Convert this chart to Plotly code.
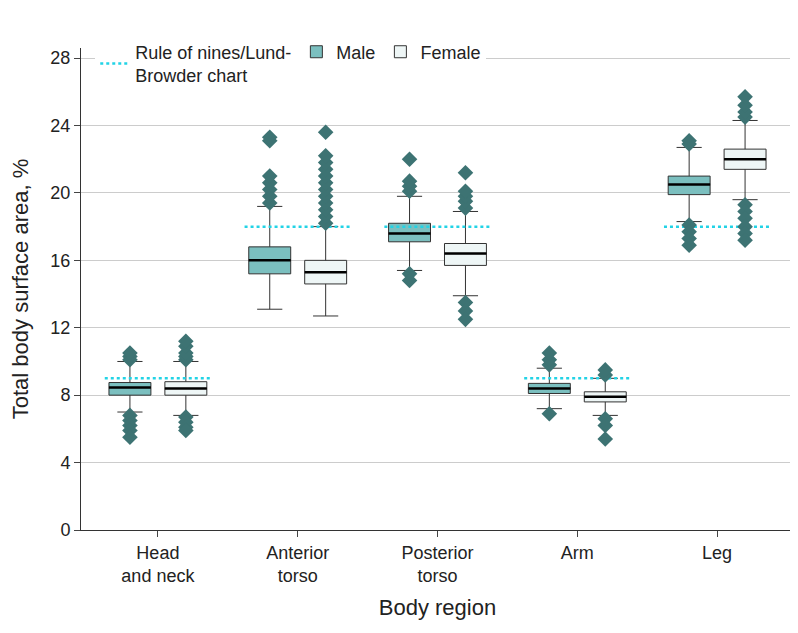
import plotly.graph_objects as go

regions = ["Head<br>and neck", "Anterior<br>torso", "Posterior<br>torso", "Arm", "Leg"]
rule_of_nines = [9, 18, 18, 9, 18]

male_q1 = [8.0, 15.2, 17.1, 8.1, 19.9]
male_med = [8.45, 16.0, 17.6, 8.4, 20.5]
male_q3 = [8.75, 16.8, 18.2, 8.7, 21.0]
male_lo = [7.0, 13.1, 15.4, 7.2, 18.3]
male_hi = [10.0, 19.2, 19.8, 9.6, 22.7]
male_out = [
    [6.8, 6.5, 6.2, 5.9, 5.5, 10.1, 10.3, 10.5],
    [19.4, 19.8, 20.2, 20.6, 21.0, 23.1, 23.3],
    [15.2, 14.8, 20.1, 20.4, 20.7, 22.0],
    [6.9, 9.8, 10.1, 10.5],
    [18.1, 17.7, 17.3, 16.9, 22.9, 23.1],
]

female_q1 = [8.0, 14.6, 15.7, 7.6, 21.4]
female_med = [8.4, 15.3, 16.4, 7.9, 22.0]
female_q3 = [8.8, 16.0, 17.0, 8.2, 22.6]
female_lo = [6.8, 12.7, 13.9, 6.8, 19.6]
female_hi = [10.0, 18.0, 18.9, 9.0, 24.3]
female_out = [
    [6.7, 6.4, 6.1, 5.9, 10.1, 10.3, 10.5, 10.9, 11.2],
    [18.2, 18.6, 19.0, 19.4, 19.8, 20.2, 20.6, 21.0, 21.4, 21.8, 22.2, 23.6],
    [13.5, 13.0, 12.5, 19.1, 19.5, 19.8, 20.1, 21.2],
    [6.6, 6.2, 5.4, 9.2, 9.5],
    [19.3, 18.9, 18.5, 18.0, 17.6, 17.2, 24.5, 24.8, 25.2, 25.7],
]

OFF = 0.2
HALF = 0.15
fig = go.Figure()

# rule of nines reference lines
for i, v in enumerate(rule_of_nines):
    fig.add_trace(go.Scatter(
        x=[i - OFF - HALF - 0.03, i + OFF + HALF + 0.03], y=[v, v], mode="lines",
        line=dict(color="#22d3e6", width=2.5, dash="dot"),
        name="Rule of nines/Lund-<br>Browder chart", showlegend=(i == 0),
        legendgroup="rule"))

for name, sign, fill, q1, med, q3, lo, hi, out in [
    ("Male", -1, "#7bbfbf", male_q1, male_med, male_q3, male_lo, male_hi, male_out),
    ("Female", 1, "#eef6f6", female_q1, female_med, female_q3, female_lo, female_hi, female_out),
]:
    xs = [i + sign * OFF for i in range(len(regions))]
    fig.add_trace(go.Box(
        x=xs, q1=q1, median=med, q3=q3, lowerfence=lo, upperfence=hi,
        name=name, fillcolor=fill, line=dict(color="#333333", width=1),
        width=2 * HALF, whiskerwidth=0.6, boxpoints=False))
    for i in range(len(regions)):
        fig.add_trace(go.Scatter(
            x=[xs[i] - HALF, xs[i] + HALF], y=[med[i], med[i]], mode="lines",
            line=dict(color="black", width=2.5), showlegend=False, hoverinfo="skip"))
        fig.add_trace(go.Scatter(
            x=[xs[i]] * len(out[i]), y=out[i], mode="markers",
            marker=dict(symbol="diamond", size=12, color="#3d7373"),
            showlegend=False))

fig.update_layout(
    width=798, height=633, plot_bgcolor="white", paper_bgcolor="white",
    font=dict(family="Liberation Sans", size=18, color="#222222"),
    margin=dict(l=62, r=12, t=40, b=111),
    legend=dict(orientation="h", x=0.02, y=1.03, xanchor="left", yanchor="top",
                bgcolor="white", font=dict(size=18)),
    xaxis=dict(tickvals=list(range(len(regions))), ticktext=regions,
               range=[-0.55, 4.55], showgrid=False, showline=True,
               linecolor="#333", ticks="outside", ticklen=6,
               title=dict(text="Body region", standoff=14)),
    yaxis=dict(range=[0, 28.6], tickvals=list(range(0, 29, 4)),
               showgrid=True, gridcolor="#cccccc", zeroline=False,
               showline=True, linecolor="#333", ticks="outside", ticklen=6,
               title=dict(text="Total body surface area, %")),
)

fig.write_html("out.html")
